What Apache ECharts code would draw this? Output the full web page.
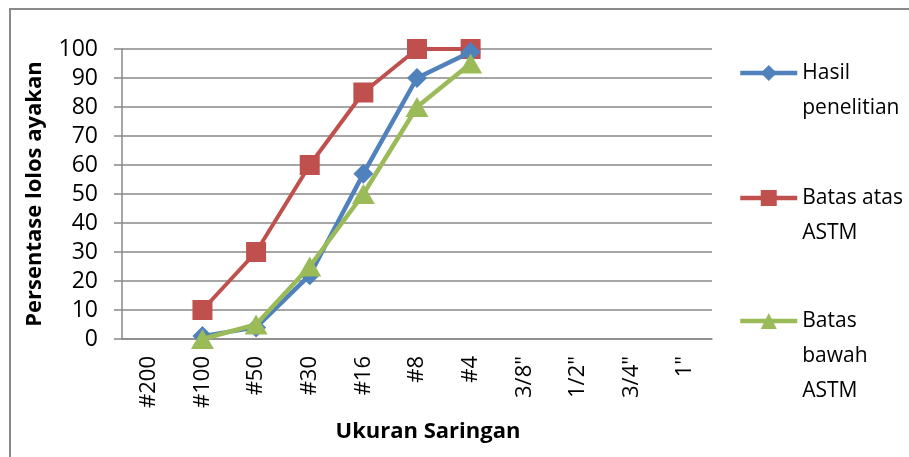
<!DOCTYPE html>
<html>
<head>
<meta charset="utf-8">
<script src="https://cdn.jsdelivr.net/npm/echarts@6/dist/echarts.min.js"></script>
<style>
  html, body { margin: 0; padding: 0; background: #fff; }
  #chart { width: 909px; height: 457px; }
</style>
</head>
<body>
<div id="chart"></div>
<script>
  // ukuran saringan
  const categories = ['#200', '#100', '#50', '#30', '#16', '#8', '#4', '3/8"', '1/2"', '3/4"', '1"'];
  const hasilPenelitian = [null, 1, 4, 22, 57, 90, 99, null, null, null, null];
  const batasAtas = [null, 10, 30, 60, 85, 100, 100, null, null, null, null];
  const batasBawah = [null, 0, 5, 25, 50, 80, 95, null, null, null, null];
  const yTicks = [0, 10, 20, 30, 40, 50, 60, 70, 80, 90, 100];

  const names = ['Hasil penelitian', 'Batas atas ASTM', 'Batas bawah ASTM'];
  const legendText = {
    'Hasil penelitian': '\nHasil\npenelitian',
    'Batas atas ASTM': '\nBatas atas\nASTM',
    'Batas bawah ASTM': '\n\nBatas\nbawah\nASTM'
  };
  const font = '"Open Sans", "Noto Sans", sans-serif';
  const gray = '#898989';

  const chart = echarts.init(document.getElementById('chart'));

  function legendFor(name, top) {
    return {
      data: [name],
      left: 733,
      top: top,
      orient: 'vertical',
      itemWidth: 57,
      itemHeight: 20,
      lineStyle: { width: 4.5 },
      formatter: (n) => legendText[n],
      textStyle: { fontFamily: font, fontSize: 21, color: '#000', lineHeight: 35 }
    };
  }

  chart.setOption({
    animation: false,
    graphic: [{
      type: 'rect',
      shape: { x: 10, y: 9, width: 1000, height: 600 },
      style: { fill: 'none', stroke: gray, lineWidth: 2 },
      silent: true
    }],
    grid: { left: 122, right: 197, top: 49, bottom: 118 },
    legend: [
      legendFor(names[0], 68 - 52.5),
      legendFor(names[1], 193 - 52.5),
      legendFor(names[2], 316 - 87.5)
    ],
    xAxis: {
      type: 'category',
      data: categories,
      boundaryGap: true,
      name: 'Ukuran Saringan',
      nameLocation: 'middle',
      nameGap: 82,
      nameTextStyle: { fontFamily: font, fontSize: 22, fontWeight: 'bold', color: '#000', padding: [0, 0, 0, 22] },
      axisLine: { lineStyle: { color: gray, width: 1.5 } },
      axisTick: { show: false },
      axisLabel: { rotate: 90, margin: 17, fontFamily: font, fontSize: 22, color: '#000', interval: 0 }
    },
    yAxis: {
      type: 'value',
      min: yTicks[0],
      max: yTicks[yTicks.length - 1],
      interval: 10,
      name: 'Persentase lolos ayakan',
      nameLocation: 'middle',
      nameGap: 76,
      nameTextStyle: { fontFamily: font, fontSize: 22, fontWeight: 'bold', color: '#000' },
      axisLine: { show: true, lineStyle: { color: gray, width: 1.5 } },
      axisTick: { show: true, length: 8, lineStyle: { color: gray, width: 1.5 } },
      axisLabel: { margin: 24, fontFamily: font, fontSize: 23, color: '#000' },
      splitLine: { show: true, lineStyle: { color: gray, width: 1.5 } }
    },
    series: [
      {
        name: names[0],
        type: 'line',
        data: hasilPenelitian,
        symbol: 'diamond',
        symbolSize: 20,
        color: '#4F81BD',
        lineStyle: { width: 4.5, color: '#4F81BD' },
        z: 3
      },
      {
        name: names[1],
        type: 'line',
        data: batasAtas,
        symbol: 'rect',
        symbolSize: 20,
        color: '#C0504D',
        lineStyle: { width: 4, color: '#C0504D' },
        z: 2
      },
      {
        name: names[2],
        type: 'line',
        data: batasBawah,
        symbol: 'triangle',
        symbolSize: [23, 20],
        color: '#9BBB59',
        lineStyle: { width: 4.5, color: '#9BBB59' },
        z: 4
      }
    ]
  });
</script>
</body>
</html>
